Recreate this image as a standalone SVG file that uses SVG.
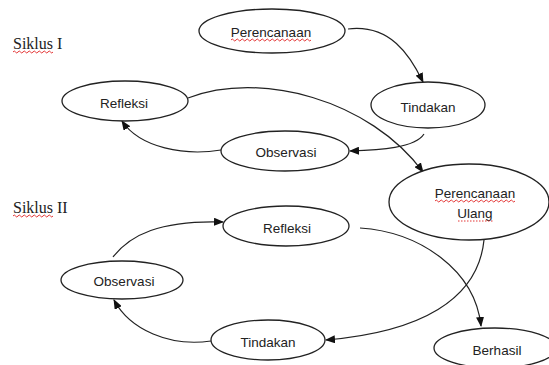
<svg xmlns="http://www.w3.org/2000/svg" width="549" height="365" viewBox="0 0 549 365">
<style>
.node ellipse{fill:#fff;stroke:#222;stroke-width:1.3}
.lbl{font-family:"Liberation Sans",Arial,sans-serif;font-size:13.5px;fill:#222;text-anchor:middle}
.title{font-family:"Liberation Serif","Times New Roman",serif;font-size:16px;fill:#222}
.conn path{fill:none;stroke:#222;stroke-width:1.2}
.spell{fill:none;stroke:#e02020;stroke-width:0.9}
</style>
<defs>
<marker id="arr" markerUnits="userSpaceOnUse" markerWidth="10" markerHeight="8" refX="9" refY="4" orient="auto">
<path d="M0,0 L10,4 L0,8 Z" fill="#111"/>
</marker>
</defs>
<rect width="549" height="365" fill="#fff"/>
<g id="siklus1">
<text class="title" x="13" y="49">Siklus I</text>
<path class="spell" d="M13,52 q1.25,-2 2.5,0 t2.5,0 t2.5,0 t2.5,0 t2.5,0 t2.5,0 t2.5,0 t2.5,0 t2.5,0 t2.5,0 t2.5,0 t2.5,0 t2.5,0 t2.5,0 t2.5,0 t2.5,0"/>
</g>
<g id="siklus2">
<text class="title" x="13" y="213">Siklus II</text>
<path class="spell" d="M13,216 q1.25,-2 2.5,0 t2.5,0 t2.5,0 t2.5,0 t2.5,0 t2.5,0 t2.5,0 t2.5,0 t2.5,0 t2.5,0 t2.5,0 t2.5,0 t2.5,0 t2.5,0 t2.5,0 t2.5,0"/>
</g>
<g class="conn" id="connectors">
<path d="M348,29 C390,24 410,55 423,82" marker-end="url(#arr)"/>
<path d="M424,134 C415,148 380,150 350,151" marker-end="url(#arr)"/>
<path d="M221,150 C185,156 140,148 122,121" marker-end="url(#arr)"/>
<path d="M188,98 C260,70 370,100 423,172" marker-end="url(#arr)"/>
<path d="M484,240 C478,300 420,332 326,340" marker-end="url(#arr)"/>
<path d="M211,341 C170,347 130,330 114,300" marker-end="url(#arr)"/>
<path d="M113,257 C130,235 160,220 223,222" marker-end="url(#arr)"/>
<path d="M360,228 C420,232 475,270 481,326" marker-end="url(#arr)"/>
</g>
<g class="node" id="perencanaan">
<ellipse cx="272" cy="31" rx="73" ry="22"/>
<text class="lbl" x="271" y="37">Perencanaan</text>
<path class="spell" d="M231,40 q1.25,-2 2.5,0 t2.5,0 t2.5,0 t2.5,0 t2.5,0 t2.5,0 t2.5,0 t2.5,0 t2.5,0 t2.5,0 t2.5,0 t2.5,0 t2.5,0 t2.5,0 t2.5,0 t2.5,0 t2.5,0 t2.5,0 t2.5,0 t2.5,0 t2.5,0 t2.5,0 t2.5,0 t2.5,0 t2.5,0 t2.5,0 t2.5,0 t2.5,0 t2.5,0 t2.5,0 t2.5,0 t2.5,0"/>
</g>
<g class="node" id="tindakan1">
<ellipse cx="428" cy="105" rx="57" ry="23"/>
<text class="lbl" x="428" y="112">Tindakan</text>
</g>
<g class="node" id="refleksi1">
<ellipse cx="125" cy="101" rx="63" ry="20"/>
<text class="lbl" x="124" y="108">Refleksi</text>
</g>
<g class="node" id="observasi1">
<ellipse cx="285" cy="151" rx="64" ry="20"/>
<text class="lbl" x="286" y="157">Observasi</text>
</g>
<g class="node" id="perencanaan-ulang">
<ellipse cx="469" cy="202" rx="80" ry="38"/>
<text class="lbl" x="475" y="198">Perencanaan</text>
<text class="lbl" x="475" y="218">Ulang</text>
<path class="spell" d="M435,201 q1.25,-2 2.5,0 t2.5,0 t2.5,0 t2.5,0 t2.5,0 t2.5,0 t2.5,0 t2.5,0 t2.5,0 t2.5,0 t2.5,0 t2.5,0 t2.5,0 t2.5,0 t2.5,0 t2.5,0 t2.5,0 t2.5,0 t2.5,0 t2.5,0 t2.5,0 t2.5,0 t2.5,0 t2.5,0 t2.5,0 t2.5,0 t2.5,0 t2.5,0 t2.5,0 t2.5,0 t2.5,0 t2.5,0"/>
<path class="spell" d="M458,221 H494" stroke-dasharray="1.5,1.5"/>
</g>
<g class="node" id="refleksi2">
<ellipse cx="286" cy="226" rx="63" ry="20"/>
<text class="lbl" x="287" y="233">Refleksi</text>
</g>
<g class="node" id="observasi2">
<ellipse cx="122" cy="280" rx="61" ry="19"/>
<text class="lbl" x="124" y="286">Observasi</text>
</g>
<g class="node" id="tindakan2">
<ellipse cx="268" cy="340" rx="57" ry="20"/>
<text class="lbl" x="268" y="347">Tindakan</text>
</g>
<g class="node" id="berhasil">
<ellipse cx="495" cy="348" rx="61" ry="20"/>
<text class="lbl" x="497" y="355">Berhasil</text>
</g>
</svg>
